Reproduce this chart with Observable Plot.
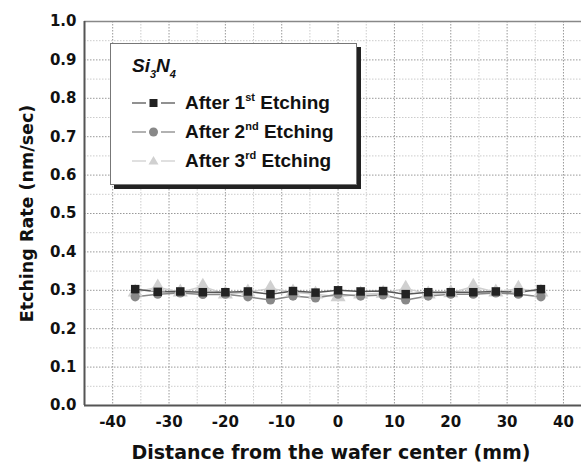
<!DOCTYPE html>
<html>
<head>
<meta charset="utf-8">
<script src="https://cdn.jsdelivr.net/npm/d3@7"></script>
<script src="https://cdn.jsdelivr.net/npm/@observablehq/plot@0.6"></script>
<style>
  body { margin: 0; background: #fff; font-family: "Liberation Sans", Arial, sans-serif; }
  #wrap { position: relative; width: 581px; height: 470px; overflow: hidden; }
  #legend {
    position: absolute; left: 110px; top: 43px; width: 247px; height: 142px;
    background: #fff; border: 1px solid #777; box-shadow: 4px 4px 0 #222;
    font-weight: bold; color: #111; box-sizing: border-box;
  }
  #legend .title { position: absolute; left: 21px; top: 11px; font-size: 19px; font-style: italic; line-height: 22px; }
  #legend .title sub { font-size: 11px; vertical-align: -6px; line-height: 0; }
  #legend .row { position: absolute; left: 21px; height: 22px; display: flex; align-items: center; font-size: 19px; white-space: nowrap; }
  #legend .row svg { margin-right: 10px; }
  #legend sup { font-size: 11px; vertical-align: 8px; line-height: 0; }
</style>
</head>
<body>
<div id="wrap"></div>
<script>
// Data
const positions = [-36, -32, -28, -24, -20, -16, -12, -8, -4, 0, 4, 8, 12, 16, 20, 24, 28, 32, 36];
const after1 = [0.303, 0.296, 0.297, 0.295, 0.295, 0.297, 0.290, 0.298, 0.294, 0.300, 0.297, 0.298, 0.290, 0.295, 0.295, 0.295, 0.297, 0.295, 0.303];
const after2 = [0.283, 0.290, 0.293, 0.289, 0.290, 0.283, 0.275, 0.285, 0.280, 0.290, 0.285, 0.288, 0.275, 0.285, 0.290, 0.290, 0.293, 0.290, 0.283];
const after3 = [0.295, 0.308, 0.295, 0.310, 0.290, 0.295, 0.305, 0.295, 0.290, 0.283, 0.290, 0.292, 0.305, 0.290, 0.293, 0.310, 0.295, 0.305, 0.295];
const seriesNames = ["After 1st Etching", "After 2nd Etching", "After 3rd Etching"];
const xTicks = [-40, -30, -20, -10, 0, 10, 20, 30, 40];
const xMinor = [-45, -35, -25, -15, -5, 5, 15, 25, 35];
const yTicks = [0, 0.1, 0.2, 0.3, 0.4, 0.5, 0.6, 0.7, 0.8, 0.9, 1.0];
const yMinor = [0.05, 0.15, 0.25, 0.35, 0.45, 0.55, 0.65, 0.75, 0.85, 0.95];

const styles = [
  {line: "#555", fill: "#222", symbol: "square", r: 4.8},
  {line: "#888", fill: "#888", symbol: "circle", r: 4.6},
  {line: "#cfcfcf", fill: "#d0d0d0", symbol: "triangle", r: 5.6}
];
const seriesValues = [after1, after2, after3];
const rows = seriesValues.flatMap((vals, s) => vals.map((v, i) => ({x: positions[i], y: v, s})));

const tickFont = "'DejaVu Sans', sans-serif";
const marks = [
  Plot.ruleX(xMinor, {stroke: "#ccc", strokeDasharray: "1.5,1.5", strokeWidth: 1}),
  Plot.ruleY(yMinor, {stroke: "#ccc", strokeDasharray: "1.5,1.5", strokeWidth: 1}),
  Plot.ruleX(xTicks, {stroke: "#999", strokeDasharray: "1.5,1.5", strokeWidth: 1}),
  Plot.ruleY(yTicks, {stroke: "#999", strokeDasharray: "1.5,1.5", strokeWidth: 1}),
  Plot.ruleY([1.0], {stroke: "#888", strokeWidth: 1.5}),
  Plot.ruleY([0], {stroke: "#555", strokeWidth: 2}),
  Plot.ruleX([-45], {stroke: "#555", strokeWidth: 2}),
];
// draw series from lightest (back) to darkest (front)
[2, 1, 0].forEach(s => {
  const d = rows.filter(r => r.s === s);
  marks.push(Plot.line(d, {x: "x", y: "y", stroke: styles[s].line, strokeWidth: 1.5}));
});
[2, 1, 0].forEach(s => {
  const d = rows.filter(r => r.s === s);
  marks.push(Plot.dot(d, {x: "x", y: "y", symbol: () => styles[s].symbol, fill: styles[s].fill, r: styles[s].r, stroke: "none"}));
});
marks.push(
  Plot.axisX(xTicks, {tickSize: 0, tickPadding: 11, fontSize: 15, fontWeight: "bold", fontFamily: tickFont, fill: "#111", tickFormat: d => String(d), label: null}),
  Plot.axisY(yTicks, {tickSize: 0, tickPadding: 8, fontSize: 15, fontWeight: "bold", fontFamily: tickFont, fill: "#111", tickFormat: d => d.toFixed(1), label: null}),
  Plot.text(["Distance from the wafer center (mm)"], {frameAnchor: "bottom", dy: 53, dx: -2, fontSize: 19, fontWeight: "bold", fontFamily: tickFont, fill: "#111"}),
  Plot.text(["Etching Rate (nm/sec)"], {frameAnchor: "left", dx: -57, rotate: -90, textAnchor: "middle", fontSize: 17.5, fontWeight: "bold", fontFamily: tickFont, fill: "#111"})
);

const chart = Plot.plot({
  width: 581,
  height: 470,
  marginLeft: 84,
  marginRight: 0,
  marginTop: 21,
  marginBottom: 65,
  style: {fontFamily: "'DejaVu Sans', sans-serif", background: "#fff", overflow: "visible"},
  x: {domain: [-45, 43.2]},
  y: {domain: [0, 1]},
  symbol: {type: "identity"},
  marks
});
const wrap = document.getElementById("wrap");
wrap.appendChild(chart);

// Legend overlay
const legend = document.createElement("div");
legend.id = "legend";
const sym = (s) => {
  const st = styles[s];
  let shape;
  if (st.symbol === "square") shape = `<rect x="17.5" y="6" width="8" height="8" fill="${st.fill}"/>`;
  else if (st.symbol === "circle") shape = `<circle cx="21.5" cy="10" r="4.5" fill="${st.fill}"/>`;
  else shape = `<path d="M21.5,5 L26.5,13.5 L16.5,13.5 Z" fill="${st.fill}"/>`;
  return `<svg width="43" height="20"><line x1="0" x2="14" y1="10" y2="10" stroke="${st.line}" stroke-width="1.3"/><line x1="29" x2="43" y1="10" y2="10" stroke="${st.line}" stroke-width="1.3"/>${shape}</svg>`;
};
const supParts = [["1", "st"], ["2", "nd"], ["3", "rd"]];
let html = `<div class="title">Si<sub>3</sub>N<sub>4</sub></div>`;
seriesNames.forEach((name, s) => {
  const top = 48 + s * 29;
  html += `<div class="row" style="top:${top}px">${sym(s)}<span>After ${supParts[s][0]}<sup>${supParts[s][1]}</sup> Etching</span></div>`;
});
legend.innerHTML = html;
wrap.appendChild(legend);
</script>
</body>
</html>
